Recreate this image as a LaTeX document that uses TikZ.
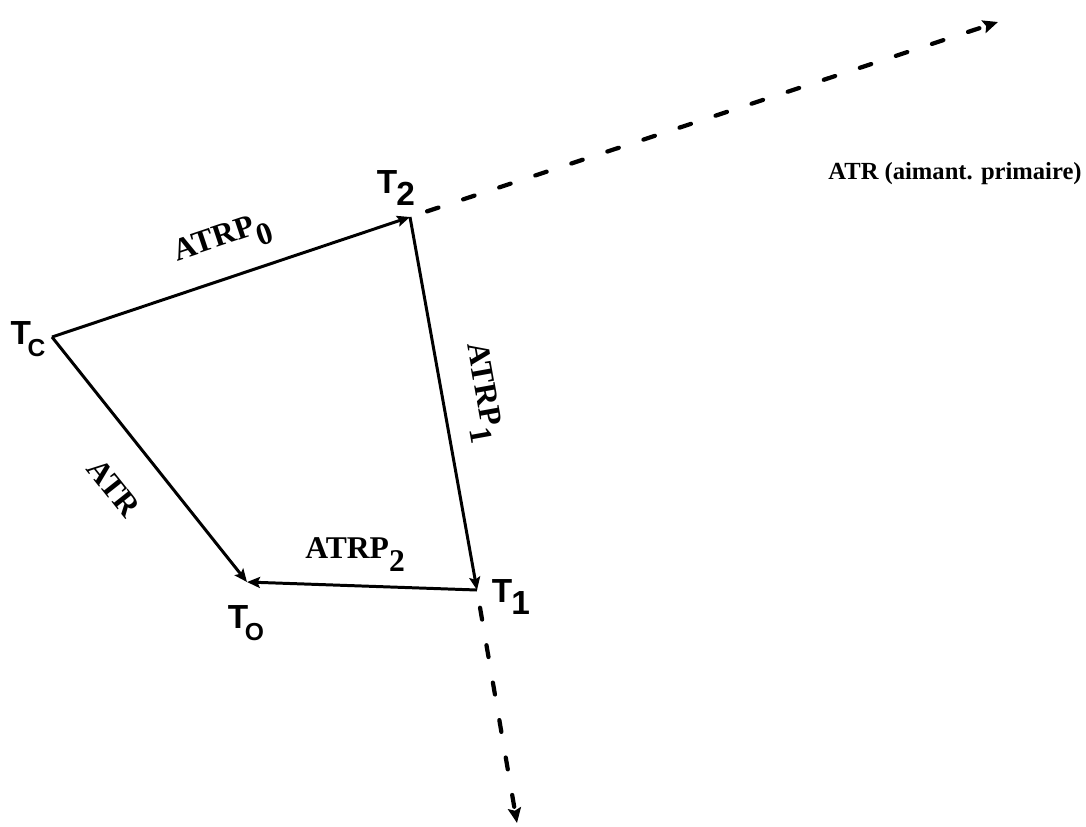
\documentclass[tikz,border=0pt]{standalone}
\usepackage{fontspec}
\setmainfont{Liberation Serif}
\setsansfont{Liberation Sans}
\usetikzlibrary{arrows.meta, positioning}

\newcommand{\atrp}[1]{ATRP\raisebox{-7pt}{#1}}
\newcommand{\tpt}[1]{T\kern-0.5pt\raisebox{-6.5pt}{#1}}

\begin{document}
\begin{tikzpicture}[
    x=0.02cm, y=-0.02cm,
    vec/.style = {draw=black, line width=1.7pt, -{Stealth[length=2.6mm, width=2.2mm, inset=0.5mm]}},
    trace/.style = {draw=black, line width=2.4pt, line cap=round, dash pattern=on 0.24cm off 0.52cm, shorten <=0.36cm, -{Stealth[length=3mm, width=2.6mm, inset=0.5mm]}},
    vlabel/.style = {font=\bfseries\fontsize{18}{18}\selectfont, inner sep=0pt},
    tlabel/.style = {font=\sffamily\bfseries\fontsize{19}{19}\selectfont, inner sep=0pt}
]
\useasboundingbox (0,0) rectangle (1086,826);

% Vertices
\coordinate (tc) at (52,337);
\coordinate (t2) at (410,217);
\coordinate (t1) at (477,590);
\coordinate (to) at (247,582);
\coordinate (far2) at (998,22);
\coordinate (far1) at (517,823);

% Vertex names
\node (l_tc) [tlabel] at (28,339) {T\kern-2pt\raisebox{-6.5pt}{\fontsize{14}{14}\selectfont C}};
\node (l_t2) [tlabel] at (396,188) {\tpt{2}};
\node (l_t1) [tlabel] at (511,597) {\tpt{1}};
\node (l_to) [tlabel] at (246,623) {T\kern-2pt\raisebox{-6.5pt}{\fontsize{14}{14}\selectfont O}};

\node (primaire) [vlabel, font=\bfseries\fontsize{14}{14}\selectfont, anchor=base east] at (1082,179) {ATR (aimant. primaire)};

% Quadrilateral
\draw [vec] (tc) -- node[vlabel, sloped, above=0.36cm, pos=0.51]{\atrp{0}} (t2);
\draw [vec] (t2) -- node[vlabel, sloped, above=0.4cm, pos=0.49]{\atrp{1}} (t1);
\draw [vec] (t1) -- node[vlabel, above=0.26cm, pos=0.53]{\atrp{2}} (to);
\draw [vec] (tc) -- node[vlabel, sloped, below=0.68cm, pos=0.5]{ATR} (to);

% Dashed continuations
\draw [trace] (t2) -- (far2);
\draw [trace] (t1) -- (far1);

\end{tikzpicture}
\end{document}
